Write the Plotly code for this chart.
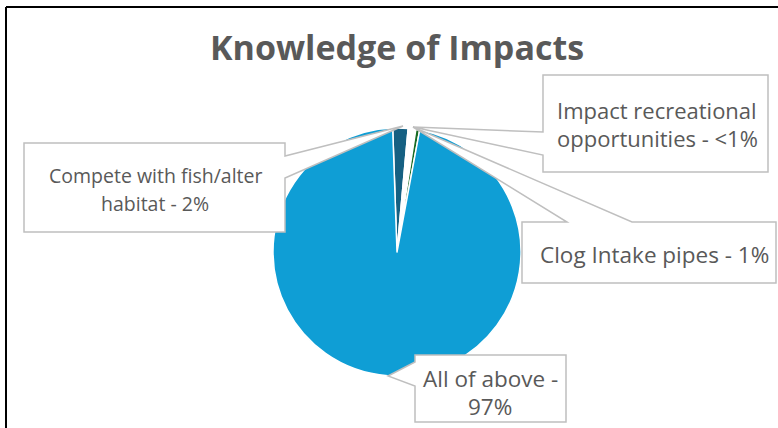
import plotly.graph_objects as go

# ---- data -------------------------------------------------------------
categories = [
    "Compete with fish/alter habitat",
    "Clog Intake pipes",
    "Impact recreational opportunities",
    "All of above",
]
values = [2, 1, 0.5, 97]
value_labels = ["2%", "1%", "<1%", "97%"]
slice_colors = ["#156082", "#FFFFFF", "#196B24", "#0F9ED5"]

W, H = 778, 428
TEXT = "#595959"
FONT = "Open Sans"


def px(x):
    return x / W


def py(y):
    return 1 - y / H


fig = go.Figure()

# pie: centre (397, 252), radius 124 px
fig.add_trace(go.Pie(
    labels=categories,
    values=values,
    sort=False,
    direction="clockwise",
    rotation=-2,
    marker=dict(colors=slice_colors, line=dict(color="white", width=1.5)),
    textinfo="none",
    hoverinfo="label+percent",
    showlegend=False,
    domain=dict(x=[px(273), px(521)], y=[py(376), py(128)]),
))

# callout boxes (outline incl. pointer tail), pixel coords
callouts = {
    "Compete with fish/alter habitat": dict(
        poly=[(24, 143), (285, 143), (285, 156), (403, 126), (285, 178),
              (285, 232), (24, 232)],
        lines=["Compete with fish/alter", "habitat - {v}"],
        cx=155, ys=[175, 203], size=19.5),
    "Impact recreational opportunities": dict(
        poly=[(543, 75), (768, 75), (768, 172), (543, 172), (543, 155),
              (413, 127), (543, 132)],
        lines=["Impact recreational", "opportunities - {v}"],
        cx=657, ys=[110, 138], size=22),
    "Clog Intake pipes": dict(
        poly=[(522, 222), (567, 222), (413, 127), (632, 222), (776, 222),
              (776, 283), (522, 283)],
        lines=["Clog Intake pipes - {v}"],
        cx=654, ys=[254], size=22.5),
    "All of above": dict(
        poly=[(415, 355), (566, 355), (566, 422), (415, 422), (415, 386),
              (388, 376), (415, 362)],
        lines=["All of above -", "{v}"],
        cx=490, ys=[378, 406], size=22.5),
}

shapes = []
annotations = []
for cat, lab in zip(categories, value_labels):
    c = callouts[cat]
    path = "M " + " L ".join(f"{px(x):.5f},{py(y):.5f}" for x, y in c["poly"]) + " Z"
    shapes.append(dict(type="path", xref="paper", yref="paper", path=path,
                       fillcolor="white", line=dict(color="#BFBFBF", width=1.5),
                       layer="above"))
    for line, y in zip(c["lines"], c["ys"]):
        annotations.append(dict(
            text=line.format(v=lab), x=px(c["cx"]), y=py(y),
            xref="paper", yref="paper", xanchor="center", yanchor="middle",
            showarrow=False, font=dict(family=FONT, size=c["size"], color=TEXT)))

# outer chart frame (top and left edges visible)
shapes.append(dict(type="line", xref="paper", yref="paper",
                   x0=px(6), y0=py(7), x1=px(790), y1=py(7),
                   line=dict(color="black", width=2)))
shapes.append(dict(type="line", xref="paper", yref="paper",
                   x0=px(6), y0=py(7), x1=px(6), y1=py(440),
                   line=dict(color="black", width=2)))

annotations.append(dict(
    text="<b>Knowledge of Impacts</b>", x=px(397), y=py(47),
    xref="paper", yref="paper", xanchor="center", yanchor="middle",
    showarrow=False, font=dict(family=FONT, size=34, color=TEXT)))

fig.update_layout(
    width=W, height=H,
    margin=dict(l=0, r=0, t=0, b=0),
    paper_bgcolor="white", plot_bgcolor="white",
    shapes=shapes, annotations=annotations,
)

fig.write_html("out.html")
